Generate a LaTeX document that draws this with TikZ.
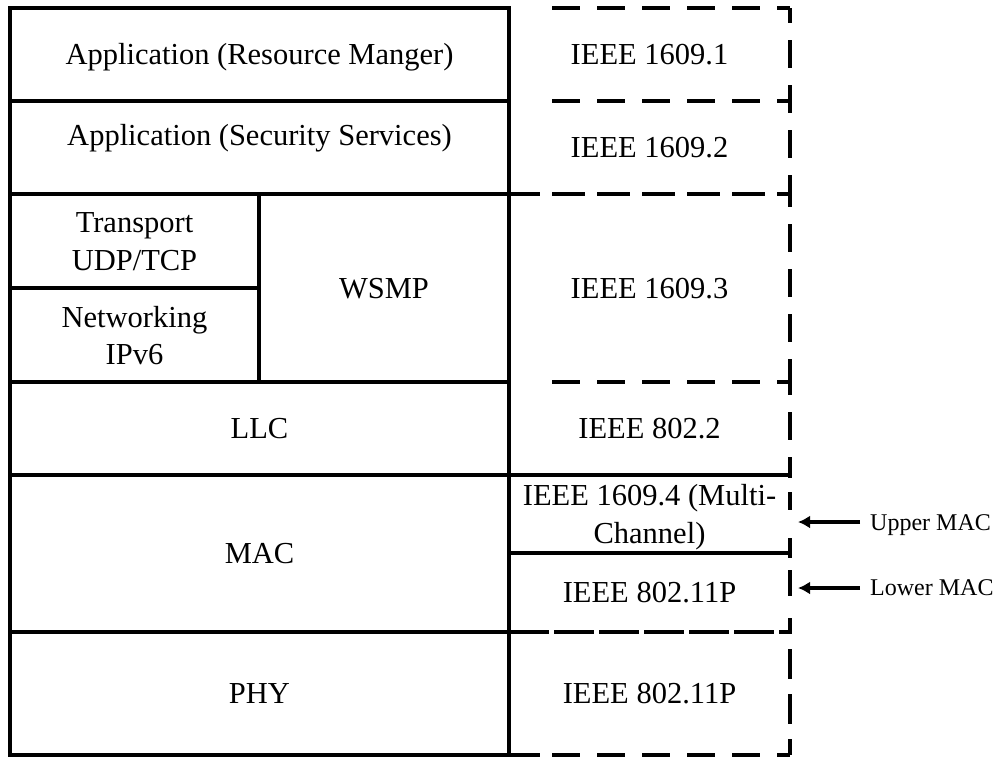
\documentclass[tikz,border=0pt]{standalone}
\usepackage{fontspec}
\setmainfont{Liberation Serif}
\usetikzlibrary{arrows.meta}
\begin{document}
\begin{tikzpicture}[x=1pt,y=-1pt,
  solidline/.style={line width=4pt},
  dashh/.style={line width=4pt, dash pattern=on 28pt off 17pt},
  dashhb/.style={line width=4pt, dash pattern=on 33pt off 12pt},
  densedash/.style={line width=4pt, dash pattern=on 40pt off 5pt},
  txt/.style={font=\fontsize{30.5}{37}\selectfont, inner sep=0pt, anchor=base},
  lbl/.style={font=\fontsize{24}{29}\selectfont, inner sep=0pt, inner xsep=10pt, anchor=base west},
  arr/.style={line width=3.2pt, -{Latex[length=12pt,width=13pt]}}
]
\useasboundingbox (0,0) rectangle (1000,756);

% ---- left column (solid) ----
\draw[solidline] (10,8) rectangle (509,755);
\draw[solidline] (10,101) -- (509,101);
\draw[solidline] (10,194) -- (509,194);
\draw[solidline] (10,382) -- (509,382);
\draw[solidline] (10,475) -- (509,475);
\draw[solidline] (10,632) -- (509,632);
\draw[solidline] (259,194) -- (259,382);
\draw[solidline] (10,288) -- (259,288);

% ---- right column (dashed) ----
\draw[dashh] (552,8) -- (790,8);
\draw[dashh] (552,101) -- (790,101);
\draw[solidline] (509,194) -- (540,194);
\draw[dashhb] (552,194) -- (790,194);
\draw[dashh] (552,382) -- (790,382);
\draw[solidline] (509,475) -- (790,475);
\draw[solidline] (509,553) -- (790,553);
\draw[densedash] (509,632) -- (790,632);
\draw[solidline] (509,755) -- (540,755);
\draw[dashh] (552,755) -- (790,755);

\draw[line width=4pt, dash pattern=on 28pt off 17pt, dash phase=13pt] (790,8) -- (790,101);
\draw[line width=4pt, dash pattern=on 28pt off 17pt, dash phase=16pt] (790,101) -- (790,194);
\draw[line width=4pt, dash pattern=on 28pt off 17pt, dash phase=15pt] (790,194) -- (790,382);
\draw[line width=4pt, dash pattern=on 28pt off 17pt, dash phase=15pt] (790,382) -- (790,475);
\draw[line width=4pt, dash pattern=on 3pt off 14pt on 18pt off 28pt on 20pt off 10pt] (790,475) -- (790,553);
\draw[line width=4pt, dash pattern=on 5pt off 12pt on 26pt off 22pt on 20pt off 10pt] (790,553) -- (790,632);
\draw[line width=4pt, dash pattern=on 30pt off 15pt, dash phase=28pt] (790,632) -- (790,755);

% ---- texts ----
\node[txt] (app1) at (259.5,64) {Application (Resource Manger)};
\node[txt] (app2) at (259.5,145) {Application (Security Services)};
\node[txt] (tr1) at (134.5,232) {Transport};
\node[txt] (tr2) at (134.5,270) {UDP/TCP};
\node[txt] (nw1) at (134.5,327) {Networking};
\node[txt] (nw2) at (134.5,364) {IPv6};
\node[txt] (wsmp) at (384,298) {WSMP};
\node[txt] (llc) at (259.5,438) {LLC};
\node[txt] (mac) at (259.5,563) {MAC};
\node[txt] (phy) at (259.5,703) {PHY};

\node[txt] (r1) at (649.5,64) {IEEE 1609.1};
\node[txt] (r2) at (649.5,157) {IEEE 1609.2};
\node[txt] (r3) at (649.5,298) {IEEE 1609.3};
\node[txt] (r4) at (649.5,438) {IEEE 802.2};
\node[txt] (r5a) at (649.5,505) {IEEE 1609.4 (Multi-};
\node[txt] (r5b) at (649.5,543) {Channel)};
\node[txt] (r6) at (649.5,602) {IEEE 802.11P};
\node[txt] (r7) at (649.5,703) {IEEE 802.11P};

% ---- side labels and arrows ----
\node[lbl] (upper) at (860,530) {Upper MAC};
\node[lbl] (lower) at (860,595) {Lower MAC};
\coordinate (uptip) at (798,522);
\coordinate (lotip) at (798,588);
\draw[arr] (upper.west |- uptip) -- (uptip);
\draw[arr] (lower.west |- lotip) -- (lotip);
\end{tikzpicture}
\end{document}
